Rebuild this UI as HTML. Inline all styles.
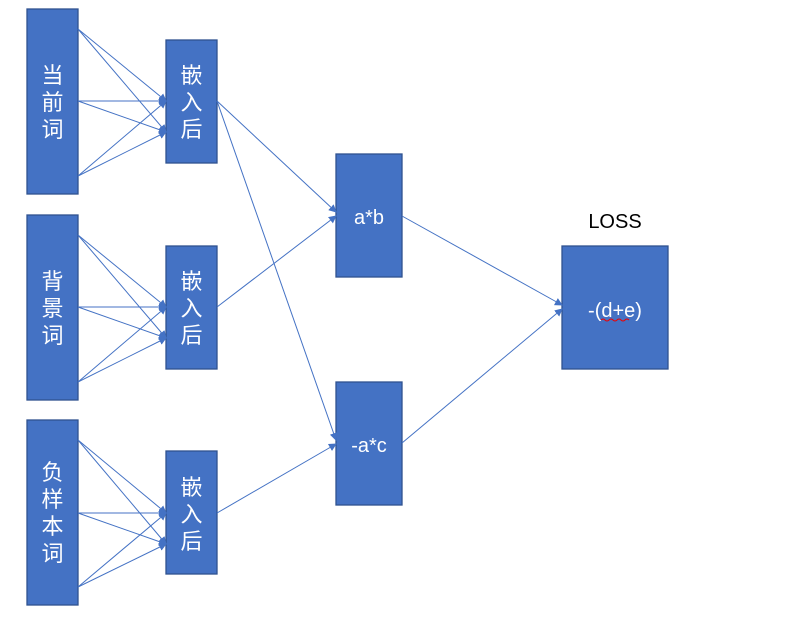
<!DOCTYPE html>
<html><head><meta charset="utf-8"><style>
html,body{margin:0;padding:0;background:#fff;width:789px;height:621px;overflow:hidden}
svg{display:block}
text{font-family:"Liberation Sans","Noto Sans CJK SC",sans-serif}
</style></head><body>
<svg width="789" height="621" viewBox="0 0 789 621" xmlns="http://www.w3.org/2000/svg">
<defs><marker id="a" markerWidth="8" markerHeight="8" refX="7" refY="4" orient="auto" markerUnits="userSpaceOnUse"><path d="M0,0 L8,4 L0,8 Z" fill="#4472C4"/></marker></defs>
<g fill="#4472C4" stroke="#2F528F" stroke-width="1.3">
<rect x="27" y="9" width="51" height="185"/>
<rect x="27" y="215" width="51" height="185"/>
<rect x="27" y="420" width="51" height="185"/>
<rect x="166" y="40" width="51" height="123"/>
<rect x="166" y="246" width="51" height="123"/>
<rect x="166" y="451" width="51" height="123"/>
<rect x="336" y="154" width="66" height="123"/>
<rect x="336" y="382" width="66" height="123"/>
<rect x="562" y="246" width="106" height="123"/>
</g>
<g stroke="#4472C4" stroke-width="1" fill="none" marker-end="url(#a)">
<line x1="78" y1="29" x2="166" y2="101"/><line x1="78" y1="29" x2="166" y2="132"/>
<line x1="78" y1="101" x2="166" y2="101"/><line x1="78" y1="101" x2="166" y2="132"/>
<line x1="78" y1="176" x2="166" y2="101"/><line x1="78" y1="176" x2="166" y2="132"/>
<line x1="78" y1="235" x2="166" y2="307"/><line x1="78" y1="235" x2="166" y2="338"/>
<line x1="78" y1="307" x2="166" y2="307"/><line x1="78" y1="307" x2="166" y2="338"/>
<line x1="78" y1="382" x2="166" y2="307"/><line x1="78" y1="382" x2="166" y2="338"/>
<line x1="78" y1="440" x2="166" y2="513"/><line x1="78" y1="440" x2="166" y2="544"/>
<line x1="78" y1="513" x2="166" y2="513"/><line x1="78" y1="513" x2="166" y2="544"/>
<line x1="78" y1="587" x2="166" y2="513"/><line x1="78" y1="587" x2="166" y2="544"/>
<line x1="217" y1="101" x2="336" y2="212"/><line x1="217" y1="101" x2="336" y2="440"/>
<line x1="217" y1="307" x2="336" y2="216"/><line x1="217" y1="513" x2="336" y2="444"/>
<line x1="402" y1="216" x2="562" y2="305"/><line x1="402" y1="443" x2="562" y2="309"/>
</g>
<g fill="#fff" font-size="22" text-anchor="middle">
<text x="52.5" y="83">当</text><text x="52.5" y="110">前</text><text x="52.5" y="137">词</text>
<text x="52.5" y="289">背</text><text x="52.5" y="316">景</text><text x="52.5" y="343">词</text>
<text x="52.5" y="480">负</text><text x="52.5" y="507">样</text><text x="52.5" y="534">本</text><text x="52.5" y="561">词</text>
<text x="191.5" y="83">嵌</text><text x="191.5" y="110">入</text><text x="191.5" y="137">后</text>
<text x="191.5" y="289">嵌</text><text x="191.5" y="316">入</text><text x="191.5" y="343">后</text>
<text x="191.5" y="495">嵌</text><text x="191.5" y="522">入</text><text x="191.5" y="549">后</text>
<text x="369" y="224" font-size="20">a*b</text>
<text x="369" y="452" font-size="20">-a*c</text>
<text x="615" y="317" font-size="20">-(d+e)</text>
</g>
<text x="615" y="228" font-size="20" text-anchor="middle" fill="#000">LOSS</text>
<path d="M601 320 q2 -2 4 0 t4 0 t4 0 t4 0 t4 0 t4 0 t4 0" stroke="#e00" stroke-width="1" fill="none"/>
</svg>
</body></html>
